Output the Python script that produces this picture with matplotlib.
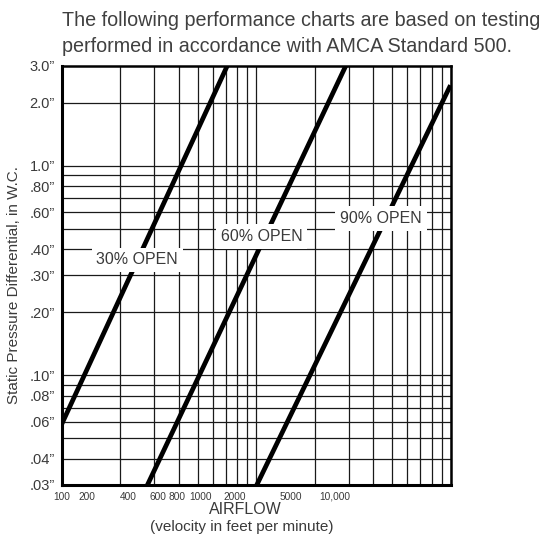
import matplotlib
matplotlib.use("Agg")
import matplotlib.pyplot as plt
import numpy as np

plt.rcParams['font.family'] = ['Liberation Sans', 'DejaVu Sans']

# ---- data ----
series_names = ["30% OPEN", "60% OPEN", "90% OPEN"]
airflow_30 = [100, 711]
pressure_30 = [0.0585, 3.0]
airflow_60 = [276, 2895]
pressure_60 = [0.03, 3.0]
airflow_90 = [1008, 10000]
pressure_90 = [0.03, 2.42]

y_tick_values = [3.0, 2.0, 1.0, 0.8, 0.6, 0.4, 0.3, 0.2, 0.1, 0.08, 0.06, 0.04, 0.03]
y_tick_labels = ['3.0”', '2.0”', '1.0”', '.80”', '.60”', '.40”', '.30”', '.20”',
                 '.10”', '.08”', '.06”', '.04”', '.03”']
x_tick_labels = ["100", "200", "400", "600", "800", "1000", "2000", "5000", "10,000"]

x_grid = [100, 200, 300, 400, 500, 600, 700, 800, 900, 1000,
          2000, 3000, 4000, 5000, 6000, 7000, 8000, 9000, 10000]
y_grid = [2.0, 1.0, 0.9, 0.8, 0.7, 0.6, 0.5, 0.4, 0.3, 0.2,
          0.1, 0.09, 0.08, 0.07, 0.06, 0.05, 0.04]

# ---- layout / style ----
x_label_frac = [0.0, 0.064, 0.171, 0.248, 0.296, 0.356, 0.446, 0.589, 0.703]
txt_color = '#3a3a3a'

fig = plt.figure(figsize=(5.52, 5.39), dpi=100)
ax = fig.add_axes([61.7 / 552, 54 / 539, 388.8 / 552, 419.3 / 539])
ax.set_xscale('log')
ax.set_yscale('log')
ax.set_xlim(100, 10000)
ax.set_ylim(0.03, 3.0)

for xv in x_grid:
    ax.axvline(xv, color='#1a1a1a', lw=0.9, zorder=1)
for yv in y_grid:
    ax.axhline(yv, color='#1a1a1a', lw=0.9, zorder=1)

for xs, ys in [(airflow_30, pressure_30), (airflow_60, pressure_60), (airflow_90, pressure_90)]:
    ax.plot(xs, ys, color='black', lw=3.4, solid_capstyle='butt', zorder=3)

label_pos = [(0.194, 0.537), (0.514, 0.592), (0.821, 0.636)]
for name, (fx, fy) in zip(series_names, label_pos):
    ax.text(fx, fy, name, transform=ax.transAxes, ha='center', va='center',
            fontsize=11.5, color=txt_color, zorder=5,
            bbox=dict(boxstyle='square,pad=0.3', fc='white', ec='none'))

# y ticks
ax.yaxis.set_major_locator(matplotlib.ticker.FixedLocator(y_tick_values))
ax.yaxis.set_major_formatter(matplotlib.ticker.FixedFormatter(y_tick_labels))
ax.yaxis.set_minor_locator(matplotlib.ticker.NullLocator())
ax.tick_params(axis='y', length=0, pad=5, labelsize=10.5, labelcolor=txt_color)

# x tick labels placed where they appear in the chart
x_positions = [10 ** (2 + 2 * f) for f in x_label_frac]
ax.xaxis.set_major_locator(matplotlib.ticker.FixedLocator(x_positions))
ax.xaxis.set_major_formatter(matplotlib.ticker.FixedFormatter(x_tick_labels))
ax.xaxis.set_minor_locator(matplotlib.ticker.NullLocator())
ax.tick_params(axis='x', length=0, pad=5, labelsize=7.3, labelcolor=txt_color)

for s in ['left', 'bottom']:
    ax.spines[s].set_linewidth(2.2)
for s in ['top', 'right']:
    ax.spines[s].set_linewidth(1.8)
for s in ax.spines.values():
    s.set_color('black')
    s.set_zorder(4)

ax.set_ylabel('Static Pressure Differential, in W.C.', fontsize=11, color=txt_color)
ax.yaxis.set_label_coords(-0.105, 0.477)
fig.text(245 / 552, 1 - 510 / 539, 'AIRFLOW', ha='center', va='center', fontsize=11.5, color=txt_color)
fig.text(242 / 552, 1 - 527 / 539, '(velocity in feet per minute)', ha='center', va='center',
         fontsize=11, color=txt_color)

fig.text(62 / 552, 1 - 21 / 539, 'The following performance charts are based on testing',
         ha='left', va='center', fontsize=14.2, color='#404040')
fig.text(62 / 552, 1 - 46 / 539, 'performed in accordance with AMCA Standard 500.',
         ha='left', va='center', fontsize=14.2, color='#404040')

fig.savefig('out.png', dpi=100)
